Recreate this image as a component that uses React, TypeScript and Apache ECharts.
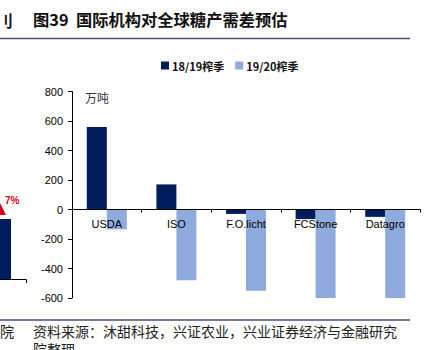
import React, { useEffect, useRef } from "react";
import * as echarts from "echarts";

const categories = ["USDA", "ISO", "F.O.licht", "FCStone", "Datagro"];
const season1819 = [560, 170, -30, -65, -50];
const season1920 = [-135, -480, -550, -605, -605];
const seriesNames = ["18/19榨季", "19/20榨季"];
const yMin = -600;
const yMax = 800;
const yInterval = 200;

const CJK = "'Noto Sans CJK SC', 'Noto Sans', sans-serif";
const LAT = "'Liberation Sans', Arial, sans-serif";

const GRID_TOP = 91.5;
const GRID_BOTTOM = 52;
const CHART_H = 350;

export default function App() {
  const ref = useRef<HTMLDivElement>(null);
  useEffect(() => {
    if (!ref.current) return;
    const chart = echarts.init(ref.current, undefined, { renderer: "svg" });
    const plotH = CHART_H - GRID_TOP - GRID_BOTTOM;
    const zeroOffset = -(plotH * (0 - yMin)) / (yMax - yMin);
    chart.setOption({
      animation: false,
      backgroundColor: "#ffffff",
      legend: {
        data: seriesNames,
        left: 161,
        top: 60,
        padding: 0,
        icon: "rect",
        itemWidth: 8,
        itemHeight: 8,
        itemGap: 11,
        textStyle: { fontSize: 11, fontWeight: "bold", color: "#111", fontFamily: CJK, padding: [0, 0, 0, -2] },
      },
      grid: { left: 72, right: 4, top: GRID_TOP, bottom: GRID_BOTTOM, containLabel: false },
      xAxis: {
        type: "category",
        data: categories,
        position: "bottom",
        offset: zeroOffset,
        z: 10,
        axisLine: { onZero: false, lineStyle: { color: "#000", width: 1 } },
        axisTick: { show: true, length: 3, inside: false, lineStyle: { color: "#000" } },
        axisLabel: { fontSize: 11, color: "#000", margin: 9, fontFamily: LAT, interval: 0 },
        splitLine: { show: false },
      },
      yAxis: {
        type: "value",
        min: yMin,
        max: yMax,
        interval: yInterval,
        axisLine: { show: true, lineStyle: { color: "#000", width: 1 } },
        axisTick: { show: true, length: 4, lineStyle: { color: "#000" } },
        axisLabel: { fontSize: 11, color: "#000", margin: 9, fontFamily: LAT },
        splitLine: { show: false },
      },
      series: [
        {
          name: seriesNames[0],
          type: "bar",
          data: season1819,
          barWidth: 20,
          barGap: "0%",
          z: 2,
          itemStyle: { color: "#001C5C" },
        },
        {
          name: seriesNames[1],
          type: "bar",
          data: season1920,
          barWidth: 20,
          barGap: "0%",
          z: 2,
          itemStyle: { color: "#8FAADC" },
        },
      ],
      graphic: [
        {
          type: "text",
          left: -3,
          top: 12,
          style: { text: "刂", fontSize: 16, fontWeight: "bold", fill: "#111", fontFamily: CJK },
        },
        {
          type: "text",
          left: 33,
          top: 11,
          style: { text: "图39  国际机构对全球糖产需差预估", fontSize: 16.3, fontWeight: "bold", fill: "#111", fontFamily: CJK },
        },
        {
          type: "line",
          shape: { x1: 0, y1: 38.5, x2: 410, y2: 38.5 },
          style: { stroke: "#4B4A7C", lineWidth: 1.5 },
        },
        {
          type: "line",
          shape: { x1: 0, y1: 320, x2: 410, y2: 320 },
          style: { stroke: "#4B4A7C", lineWidth: 1.5 },
        },
        {
          type: "text",
          left: 0,
          top: 324,
          style: { text: "院", fontSize: 14, fill: "#222", fontFamily: CJK },
        },
        {
          type: "text",
          left: 33,
          top: 324,
          style: { text: "资料来源：沐甜科技，兴证农业，兴业证券经济与金融研究", fontSize: 14, fill: "#222", fontFamily: CJK },
        },
        {
          type: "text",
          left: 33,
          top: 342,
          style: { text: "院整理", fontSize: 14, fill: "#222", fontFamily: CJK },
        },
        {
          type: "text",
          left: 85,
          top: 91,
          style: { text: "万吨", fontSize: 12, fill: "#333", fontFamily: CJK },
        },
        {
          type: "rect",
          shape: { x: 0, y: 219, width: 11, height: 60 },
          style: { fill: "#001C5C" },
        },
        {
          type: "polyline",
          shape: { points: [[0, 279.5], [26.5, 279.5], [26.5, 283]] },
          style: { stroke: "#000", lineWidth: 1, fill: null },
        },
        {
          type: "polygon",
          shape: { points: [[0, 203], [6, 215], [0, 215]] },
          style: { fill: "#D0021B" },
        },
        {
          type: "text",
          left: 5,
          top: 195,
          style: { text: "7%", fontSize: 10, fontWeight: "bold", fill: "#D0021B", fontFamily: LAT },
        },
      ],
    });
    return () => chart.dispose();
  }, []);
  return (
    <div
      ref={ref}
      style={{ position: "fixed", left: 0, top: 0, width: 424, height: 350, background: "#fff" }}
    />
  );
}
